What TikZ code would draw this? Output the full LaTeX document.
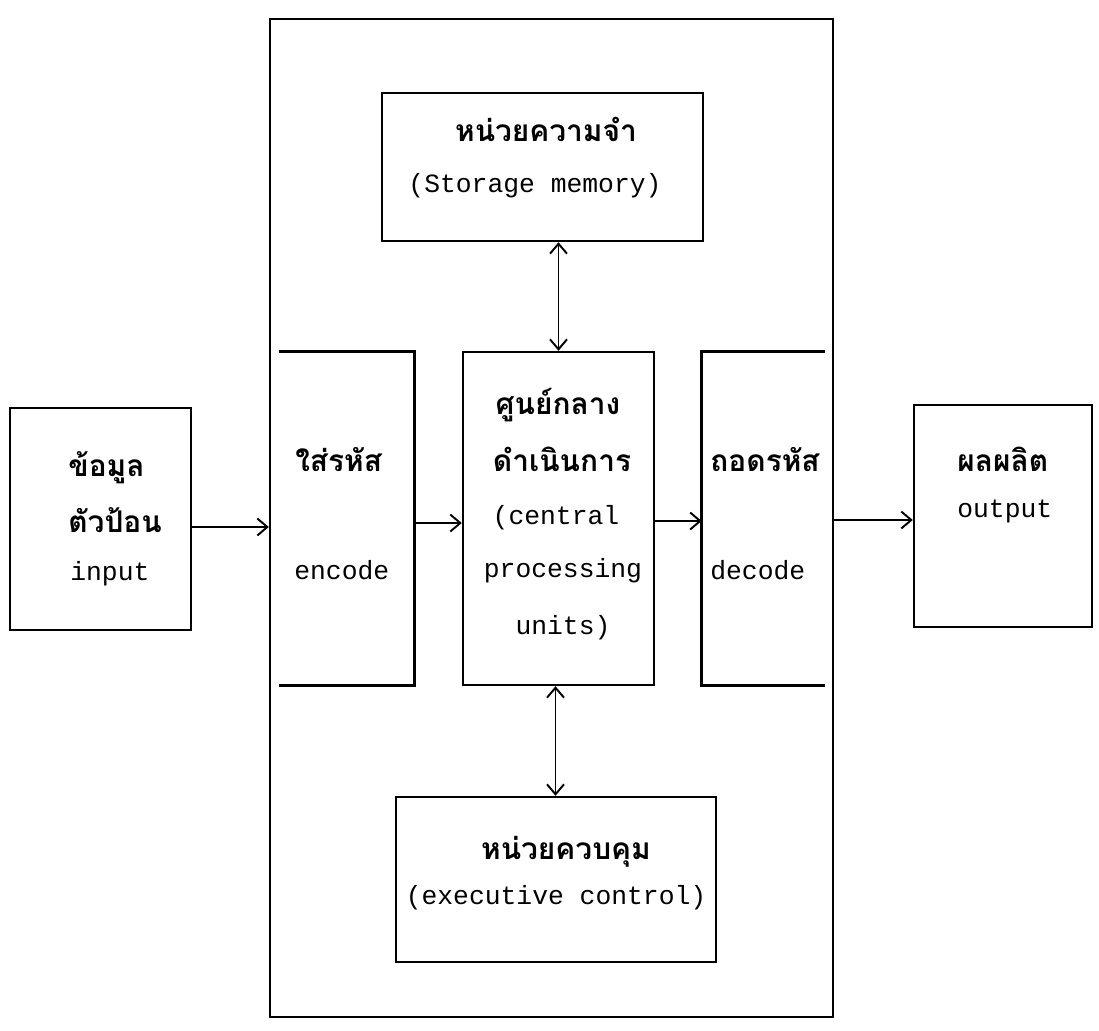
\documentclass[tikz,border=0pt]{standalone}
\usepackage{fontspec}
\newfontfamily\thaifont[Script=Thai]{Loma}
\setmonofont{Liberation Mono}
\usetikzlibrary{arrows.meta}

\tikzset{
  box/.style={draw, line width=1.4pt, inner sep=0pt},
  openbox/.style={inner sep=0pt},
  thai/.style={font=\thaifont\bfseries\fontsize{17}{17}\selectfont, inner sep=0pt},
  eng/.style={font=\ttfamily\fontsize{15}{15}\selectfont, inner sep=0pt},
  link/.style={line width=1.1pt, -{Straight Barb[length=2mm,width=3.4mm]}},
  dlink/.style={line width=1.1pt, {Straight Barb[length=2mm,width=3.4mm]}-{Straight Barb[length=2mm,width=3.4mm]}},
}

\begin{document}
\begin{tikzpicture}[x=0.02cm,y=-0.02cm]
\useasboundingbox (0,0) rectangle (1099,1031);

% boxes
\node[box, minimum width=11.26cm, minimum height=19.96cm] (outer) at (551.5,518) {};
\node[box, minimum width=6.42cm, minimum height=2.96cm] (mem) at (542.5,167) {};
\node[box, minimum width=3.82cm, minimum height=6.66cm] (cpu) at (558.5,518.5) {};
\node[openbox, minimum width=2.7cm, minimum height=6.66cm] (enc) at (346.5,518.5) {};
\node[openbox, minimum width=2.46cm, minimum height=6.66cm] (dec) at (763.5,518.5) {};
\node[box, minimum width=6.4cm, minimum height=3.3cm] (ctrl) at (556,879.5) {};
\node[box, minimum width=3.62cm, minimum height=4.44cm] (inp) at (100.5,519) {};
\node[box, minimum width=3.56cm, minimum height=4.44cm] (outp) at (1003,516) {};

% open sides of encode / decode
\draw[line width=1.4pt] (enc.north west) -- (enc.north east) -- (enc.south east) -- (enc.south west);
\draw[line width=1.4pt] (dec.north east) -- (dec.north west) -- (dec.south west) -- (dec.south east);

% texts
\node[thai, anchor=base west] (inp-a) at (68,476) {ข้อมูล};
\node[thai, anchor=base west] (inp-b) at (68,532) {ตัวป้อน};
\node[eng, anchor=base west] (inp-c) at (70,580) {input};

\node[thai, anchor=base west] (enc-a) at (295,471) {ใส่รหัส};
\node[eng, anchor=base west] (enc-b) at (294,579) {encode};

\node[thai, anchor=base] (cpu-a) at (558,414) {ศูนย์กลาง};
\node[thai, anchor=base] (cpu-b) at (562,471) {ดำเนินการ};
\node[eng, anchor=base] (cpu-c) at (556,524) {(central};
\node[eng, anchor=base] (cpu-d) at (563,577) {processing};
\node[eng, anchor=base] (cpu-e) at (563,634) {units)};

\node[thai, anchor=base west] (dec-a) at (710,471) {ถอดรหัส};
\node[eng, anchor=base west] (dec-b) at (710,579) {decode};

\node[thai, anchor=base west] (outp-a) at (957,471) {ผลผลิต};
\node[eng, anchor=base west] (outp-b) at (957,517) {output};

\node[thai, anchor=base] (mem-a) at (546,141) {หน่วยความจำ};
\node[eng, anchor=base] (mem-b) at (535,192) {(Storage memory)};

\node[thai, anchor=base] (ctrl-a) at (566,859) {หน่วยควบคุม};
\node[eng, anchor=base] (ctrl-b) at (556,904) {(executive control)};

% connectors
\draw[link] (inp.east |- 0,527) -- (outer.west |- 0,527);
\draw[link] (enc.east |- 0,523) -- (cpu.west |- 0,523);
\draw[link] (cpu.east |- 0,521) -- (dec.west |- 0,521);
\draw[link] (outer.east |- 0,520) -- (outp.west |- 0,520);
\draw[dlink] (cpu.north |- mem.south) -- (cpu.north);
\draw[dlink] ([xshift=-0.06cm]cpu.south) -- ([xshift=-0.06cm]cpu.south |- ctrl.north);
\end{tikzpicture}
\end{document}
